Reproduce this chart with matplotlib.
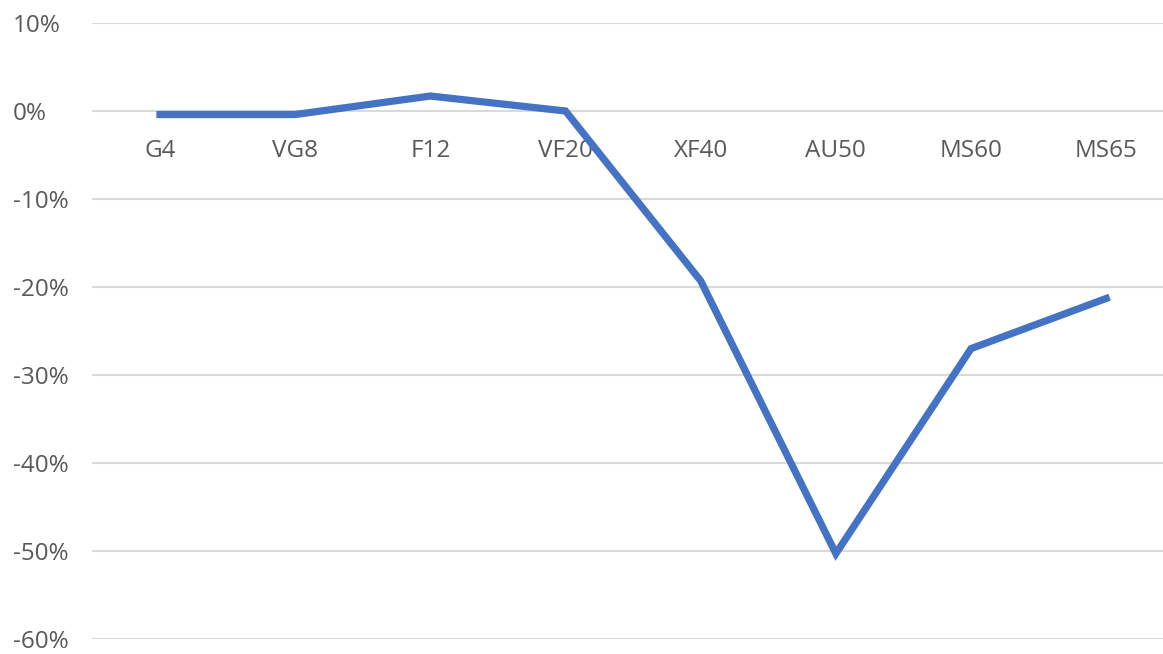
import matplotlib
matplotlib.use("Agg")
import matplotlib.pyplot as plt
import matplotlib.transforms as mtransforms
from matplotlib.ticker import FuncFormatter

# grades and change in value (%)
grades = ["G4", "VG8", "F12", "VF20", "XF40", "AU50", "MS60", "MS65"]
change = [-0.4, -0.4, 1.7, 0.0, -19.3, -50.3, -27.0, -21.3]
y_ticks = [10, 0, -10, -20, -30, -40, -50, -60]

plt.rcParams['font.family'] = ['Open Sans', 'DejaVu Sans']

fig = plt.figure(figsize=(11.63, 6.54), dpi=100)
ax = fig.add_axes([92 / 1163, 1 - 639 / 654, 1 - 92 / 1163, (639 - 23) / 654])

x = list(range(len(grades)))
ax.plot(x, change, color="#4472C4", linewidth=5.2, solid_joinstyle="miter", zorder=3)

ax.set_xlim(-0.503, 7.42)
ax.set_ylim(-60, 10)
ax.set_yticks(y_ticks)
ax.yaxis.set_major_formatter(FuncFormatter(lambda v, p: "{:.0f}%".format(v)))
ax.grid(axis="y", color="#D9D9D9", linewidth=1.5)
ax.set_axisbelow(True)

# category labels sit just under the zero line, like Excel
ax.set_xticks(x)
ax.set_xticklabels(grades)
ax.spines["bottom"].set_position(("data", 0))
for s in ax.spines.values():
    s.set_visible(False)
ax.tick_params(axis="x", length=0, pad=20, labelsize=17.5, labelcolor="#595959")
ax.tick_params(axis="y", length=0, pad=57, labelsize=17.5, labelcolor="#595959")
shift = mtransforms.ScaledTranslation(0, -3 / 100, fig.dpi_scale_trans)
for lb in ax.get_yticklabels():
    lb.set_horizontalalignment("left")
    lb.set_verticalalignment("center")
    lb.set_transform(lb.get_transform() + shift)

plt.savefig("out.png", dpi=100)
